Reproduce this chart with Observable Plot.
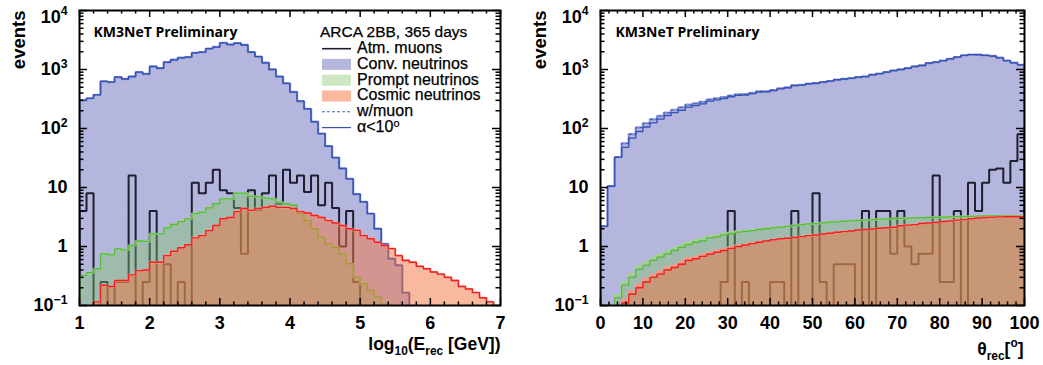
<!DOCTYPE html>
<html><head><meta charset="utf-8">
<script src="https://cdn.jsdelivr.net/npm/d3@7"></script>
<script src="https://cdn.jsdelivr.net/npm/@observablehq/plot@0.6"></script>
<style>
body{margin:0;background:#fff;}
#wrap{position:relative;width:1043px;height:365px;display:flex;overflow:hidden;}
svg{display:block;}
</style></head><body><div id="wrap"></div>
<script>
// ---------- data: 60 bins per panel ----------
const binsE = {lo: 1, hi: 7, n: 60};      // log10(E_rec [GeV])
const binsT = {lo: 0, hi: 100, n: 60};    // theta_rec [deg]

const convE = [299,324,372,630,610,740,690,760,900,840,
  1125,1050,1330,1460,1580,1620,1910,1970,2250,2400,
  2830,2650,2800,2600,1970,1650,1300,1000,760,580,
  415,290,215,130,82,50,32,21,14,7.7,
  5.7,3.6,2.0,1.1,0.62,0.48,0.165,0,0,0,
  0,0,0,0,0,0,0,0,0,0];
const promptE = [0.32,0.36,0.42,0.75,0.72,0.91,0.88,1.04,1.24,1.22,
  1.64,1.64,2.07,2.36,2.65,2.95,3.6,3.8,4.5,5.3,
  6.4,6.4,8.0,8.0,7.1,7.0,6.6,6.4,5.6,5.3,
  5.0,3.6,2.75,2.0,1.44,1.11,0.97,0.75,0.51,0.30,
  0.235,0.18,0.14,0.105,0,0,0,0,0,0,
  0,0,0,0,0,0,0,0,0,0];
const cosmicE = [0,0,0.115,0.22,0.21,0.265,0.265,0.33,0.39,0.40,
  0.54,0.54,0.70,0.83,0.95,1.07,1.4,1.53,1.86,2.27,
  2.95,3.1,3.9,4.4,4.1,4.4,4.6,4.8,4.6,4.6,
  4.4,3.9,3.7,3.35,3.1,2.75,2.5,2.27,2.0,1.88,
  1.53,1.35,1.18,1.04,0.92,0.70,0.58,0.54,0.46,0.42,
  0.37,0.34,0.30,0.265,0.21,0.19,0.165,0.135,0.115,0];
const muonE = [4,8,0,0.25,0,0.25,0.25,16,0,0.25,
  4,0,0.5,0,0.25,0,12,8,12,20,
  9,8,4.5,0.75,9,4.2,8,16,5.3,20,
  12,16,8.4,16,5,12,4.5,1,4,0.25,
  0,0,0,0,0,0,0,0,0,0,
  0,0,0,0,0,0,0,0,0,0];

// theta panel: "w/muon" (dashed) and "alpha<10" (solid) versions
const convT_mu = [2.2,10.5,32.7,56,80,104,122,143,163,186,
  206,228,252,265,283,310,323,338,360,378,
  380,400,425,426,448,478,496,540,548,572,
  586,610,635,670,690,710,740,760,815,850,
  900,960,1000,1050,1125,1170,1280,1330,1410,1510,
  1620,1730,1790,1780,1730,1690,1580,1410,1300,1200];
const convT_a = [2.2,10.5,32.7,48,68.5,89,106,125,144,166,
  186,204,230,245,262,290,305,322,345,365,
  368,390,415,418,440,470,490,535,545,570,
  585,610,635,670,690,710,740,760,815,850,
  900,960,1000,1050,1125,1170,1280,1330,1410,1510,
  1620,1730,1790,1780,1730,1690,1580,1410,1300,1200];
const promptT_mu = [0,0,0.15,0.25,0.34,0.46,0.54,0.64,0.73,0.82,
  0.93,1.05,1.16,1.26,1.33,1.48,1.53,1.65,1.72,1.8,
  1.84,1.9,1.97,2.03,2.09,2.15,2.2,2.27,2.35,2.42,
  2.45,2.52,2.58,2.62,2.68,2.72,2.76,2.8,2.86,2.9,
  2.95,2.98,3.0,3.02,3.05,3.07,3.1,3.12,3.15,3.18,
  3.2,3.22,3.25,3.27,3.3,3.3,3.32,3.32,3.32,3.3];
const promptT_a = [0,0,0.135,0.22,0.3,0.41,0.48,0.58,0.66,0.75,
  0.855,0.97,1.08,1.18,1.25,1.4,1.46,1.58,1.66,1.75,
  1.8,1.86,1.94,2.0,2.07,2.13,2.2,2.27,2.35,2.42,
  2.45,2.52,2.58,2.62,2.68,2.72,2.76,2.8,2.86,2.9,
  2.95,2.98,3.0,3.02,3.05,3.07,3.1,3.12,3.15,3.18,
  3.2,3.22,3.25,3.27,3.3,3.3,3.32,3.32,3.32,3.3];
const cosmicT_mu = [0,0,0,0.125,0.175,0.225,0.28,0.33,0.375,0.44,
  0.48,0.55,0.63,0.67,0.73,0.79,0.85,0.9,0.97,1.04,
  1.09,1.14,1.2,1.25,1.3,1.35,1.38,1.42,1.47,1.53,
  1.57,1.63,1.68,1.74,1.79,1.83,1.9,1.94,1.98,2.04,
  2.08,2.12,2.25,2.3,2.35,2.45,2.5,2.55,2.65,2.7,
  2.8,2.85,2.95,3.05,3.1,3.15,3.18,3.2,3.2,3.2];
const cosmicT_a = [0,0,0,0.11,0.155,0.2,0.25,0.30,0.34,0.40,
  0.44,0.5,0.58,0.62,0.68,0.74,0.8,0.855,0.93,1.0,
  1.06,1.12,1.18,1.24,1.3,1.35,1.38,1.42,1.47,1.53,
  1.57,1.63,1.68,1.74,1.79,1.83,1.9,1.94,1.98,2.04,
  2.08,2.12,2.25,2.3,2.35,2.45,2.5,2.55,2.65,2.7,
  2.8,2.85,2.95,3.05,3.1,3.15,3.18,3.2,3.2,3.2];
const muonT = [0,0,0,0,0,0,0,0,0,0,
  0,0,0,0,0,0,0,0.25,4,0,
  0.25,0,0,0,0.25,0.25,0,4,0,0,
  8,0.25,0,0.5,0.5,0.5,0,4,0,4,
  4,0.75,4,1,0.5,0.75,0.75,16,0.25,0.25,
  4,0,12,4,12,20,21,12,28,80];

// ticks and labels
const yMajor = [0.1, 1, 10, 100, 1000, 10000];
const yLabels = ["10^{−1}", "1", "10", "10^{2}", "10^{3}", "10^{4}"];
const xTicksE = [1, 2, 3, 4, 5, 6, 7];
const xTicksT = [0, 10, 20, 30, 40, 50, 60, 70, 80, 90, 100];
const titleE = "log_{10}(E_{rec} [GeV])";
const titleT = "θ_{rec}[^{o}]";
const tagText = "KM3NeT Preliminary";
const legendTitle = "ARCA 2BB, 365 days";
const legendLabels = ["Atm. muons", "Conv. neutrinos", "Prompt neutrinos", "Cosmic neutrinos", "w/muon", "α<10^{o}"];

// ---------- styles ----------
const C = {
  convFill: "#b4b6de", convHalo: "#8f9bd6", convDash: "#4a66c4", convLine: "#3652b3",
  muon: "#1d1f2e",
  promptFill: "#7fc466", promptOp: 0.4, promptHalo: "#9fd48a", promptLine: "#58b93a",
  cosmicFill: "#f2733f", cosmicOp: 0.5, cosmicHalo: "#f59a8a", cosmicLine: "#ee2020"
};
const FLOOR = 0.01;

function edgesOf(b) { return d3.range(b.n + 1).map(i => b.lo + (b.hi - b.lo) * i / b.n); }
function steps(edges, vals) {
  const pts = [{x: edges[0], y: FLOOR}];
  vals.forEach((v, i) => { const y = v > 0 ? v : FLOOR; pts.push({x: edges[i], y}, {x: edges[i + 1], y}); });
  pts.push({x: edges[vals.length], y: FLOOR});
  return pts;
}

function panel(o) {
  const H = 365, mt = 10, mb = 60, ml = 79;
  const fw = o.width - ml - o.marginRight, fh = H - mt - mb;
  const edges = edgesOf(o.bins);
  const area = (vals, fill, op) => Plot.areaY(steps(edges, vals), {x: "x", y1: FLOOR, y2: "y", fill, fillOpacity: op, clip: true});
  const line = (vals, stroke, w, extra = {}) => Plot.line(steps(edges, vals), {x: "x", y: "y", stroke, strokeWidth: w, strokeLinejoin: "miter", strokeLinecap: "butt", clip: true, ...extra});
  const yMinor = d3.range(-1, 4).flatMap(k => d3.range(2, 10).map(m => m * Math.pow(10, k)));
  const xMinor = d3.range(o.xDomain[0], o.xDomain[1] + 1e-9, o.minorStep).filter(v => !o.xTicks.some(t => Math.abs(t - v) < 1e-6));
  const tk = {stroke: "black", strokeWidth: 1.5};
  const bold = {fontWeight: "bold", fontSize: 18};
  return Plot.plot({
    width: o.width, height: H, marginLeft: ml, marginRight: o.marginRight, marginTop: mt, marginBottom: mb,
    x: {domain: o.xDomain, axis: null},
    y: {type: "log", domain: [0.1, 1e4], axis: null},
    style: {fontFamily: "Liberation Sans, Arial, sans-serif", background: "white", color: "black", overflow: "visible"},
    marks: [
      area(o.convMu, C.convFill, 1),
      line(o.convMu, C.convHalo, 2.4),
      line(o.convMu, C.convDash, 1.2, {strokeDasharray: "4,2"}),
      line(o.convA, C.convLine, 1.3),
      line(o.muon, C.muon, 2),
      area(o.promptMu, C.promptFill, C.promptOp),
      line(o.promptMu, C.promptHalo, 2.2),
      line(o.promptA, C.promptLine, 1.3),
      area(o.cosmicMu, C.cosmicFill, C.cosmicOp),
      line(o.cosmicMu, C.cosmicHalo, 2.2),
      line(o.cosmicA, C.cosmicLine, 1.4),
      // ticks, inside the frame on all four sides
      Plot.tickY(yMajor, {y: d => d, insetRight: fw - 8, ...tk}),
      Plot.tickY(yMajor, {y: d => d, insetLeft: fw - 8, ...tk}),
      Plot.tickY(yMinor, {y: d => d, insetRight: fw - 4.5, ...tk}),
      Plot.tickY(yMinor, {y: d => d, insetLeft: fw - 4.5, ...tk}),
      Plot.tickX(o.xTicks, {x: d => d, insetTop: fh - 7, ...tk}),
      Plot.tickX(o.xTicks, {x: d => d, insetBottom: fh - 7, ...tk}),
      Plot.tickX(xMinor, {x: d => d, insetTop: fh - 3.5, ...tk}),
      Plot.tickX(xMinor, {x: d => d, insetBottom: fh - 3.5, ...tk}),
      Plot.frame({stroke: "black", strokeWidth: 2}),
      // tick labels
      Plot.text(yMajor.slice(0, 5), {y: d => d, text: (d, i) => yLabels[i], frameAnchor: "left", dx: -12, textAnchor: "end", lineAnchor: "middle", ...bold}),
      Plot.text(yMajor.slice(5), {y: d => d, text: () => yLabels[5], frameAnchor: "left", dx: -12, dy: 6.5, textAnchor: "end", lineAnchor: "middle", ...bold}),
      Plot.text(o.xTicks, {x: d => d, text: d => String(d), frameAnchor: "bottom", dy: 17.5, lineAnchor: "middle", ...bold}),
      // titles
      Plot.text(["events"], {frameAnchor: "top-left", dx: -55, rotate: -90, textAnchor: "end", lineAnchor: "bottom", fontWeight: "bold", fontSize: 18.5}),
      Plot.text([o.xTitle], {frameAnchor: "bottom-right", dx: o.titleDx, dy: o.titleDy, textAnchor: "end", lineAnchor: "bottom", fontWeight: "bold", fontSize: 17.5}),
      Plot.text([tagText], {frameAnchor: "top-left", dx: o.tagDx, dy: 26, textAnchor: "start", lineAnchor: "bottom", fontFamily: "Open Sans", fontWeight: "bold", fontSize: 14})
    ]
  });
}

function rich(svg, supScale = 0.42) {
  d3.select(svg).selectAll("text").each(function () {
    const s = this.textContent;
    if (!/[_^]\{/.test(s)) return;
    const fs = parseFloat(getComputedStyle(this).fontSize) || 16;
    const re = /([_^])\{([^}]*)\}|([^_^]+)/g;
    while (this.firstChild) this.removeChild(this.firstChild);
    let shift = 0, m;
    while ((m = re.exec(s))) {
      const t = document.createElementNS("http://www.w3.org/2000/svg", "tspan");
      let target = 0, small = false;
      if (m[1] === "_") { target = 0.32 * fs; small = true; t.textContent = m[2]; }
      else if (m[1] === "^") { target = -supScale * fs; small = true; t.textContent = m[2]; }
      else t.textContent = m[3];
      if (target - shift !== 0) t.setAttribute("dy", (target - shift).toFixed(2));
      if (small) t.setAttribute("font-size", (0.68 * fs).toFixed(2));
      shift = target;
      this.appendChild(t);
    }
  });
}

const wrap = document.getElementById("wrap");
const left = panel({width: 521, marginRight: 21, bins: binsE, xDomain: [1, 7], xTicks: xTicksE, minorStep: 0.2,
  convMu: convE, convA: convE, promptMu: promptE, promptA: promptE, cosmicMu: cosmicE, cosmicA: cosmicE, muon: muonE,
  xTitle: titleE, titleDx: 0, titleDy: 44, tagDx: 14});
const right = panel({width: 522, marginRight: 19, bins: binsT, xDomain: [0, 100], xTicks: xTicksT, minorStep: 2,
  convMu: convT_mu, convA: convT_a, promptMu: promptT_mu, promptA: promptT_a, cosmicMu: cosmicT_mu, cosmicA: cosmicT_a, muon: muonT,
  xTitle: titleT, titleDx: -1, titleDy: 49, tagDx: 15});
wrap.append(left, right);
rich(left);
rich(right);

// legend (inside left frame)
{
  const g = d3.select(left).append("g")
    .attr("font-family", "Liberation Sans, Arial, sans-serif").attr("font-size", 16)
    .attr("text-anchor", "start").attr("fill", "#000")
    .attr("stroke", "#000").attr("stroke-width", 0.25);
  g.append("text").attr("x", 320).attr("y", 36.7).attr("font-size", 15.5).attr("text-anchor", "start").text(legendTitle);
  const base = [53, 68.7, 84.5, 100.3, 116.1, 131.9];
  const sx0 = 322, sx1 = 351, tx = 357;
  legendLabels.forEach((lab, i) => {
    const y = base[i], cy = y - 4.3;
    if (i === 0) g.append("line").attr("x1", sx0).attr("x2", sx1).attr("y1", cy).attr("y2", cy).attr("stroke", C.muon).attr("stroke-width", 1.6);
    if (i === 1) g.append("rect").attr("x", sx0).attr("y", cy - 5.5).attr("width", sx1 - sx0).attr("height", 11).attr("stroke", "none").attr("fill", C.convFill);
    if (i === 2) g.append("rect").attr("x", sx0).attr("y", cy - 5.5).attr("width", sx1 - sx0).attr("height", 11).attr("stroke", "none").attr("fill", C.promptFill).attr("fill-opacity", C.promptOp);
    if (i === 3) g.append("rect").attr("x", sx0).attr("y", cy - 5.5).attr("width", sx1 - sx0).attr("height", 11).attr("stroke", "none").attr("fill", C.cosmicFill).attr("fill-opacity", C.cosmicOp);
    if (i === 4) g.append("line").attr("x1", sx0).attr("x2", sx1).attr("y1", cy).attr("y2", cy).attr("stroke", C.convDash).attr("stroke-width", 1.1).attr("stroke-dasharray", "3,2");
    if (i === 5) g.append("line").attr("x1", sx0).attr("x2", sx1).attr("y1", cy).attr("y2", cy).attr("stroke", C.convLine).attr("stroke-width", 1.2);
    g.append("text").attr("x", tx).attr("y", y).attr("text-anchor", "start").text(lab);
  });
  rich(g.node(), 0.3);
}
</script></body></html>
